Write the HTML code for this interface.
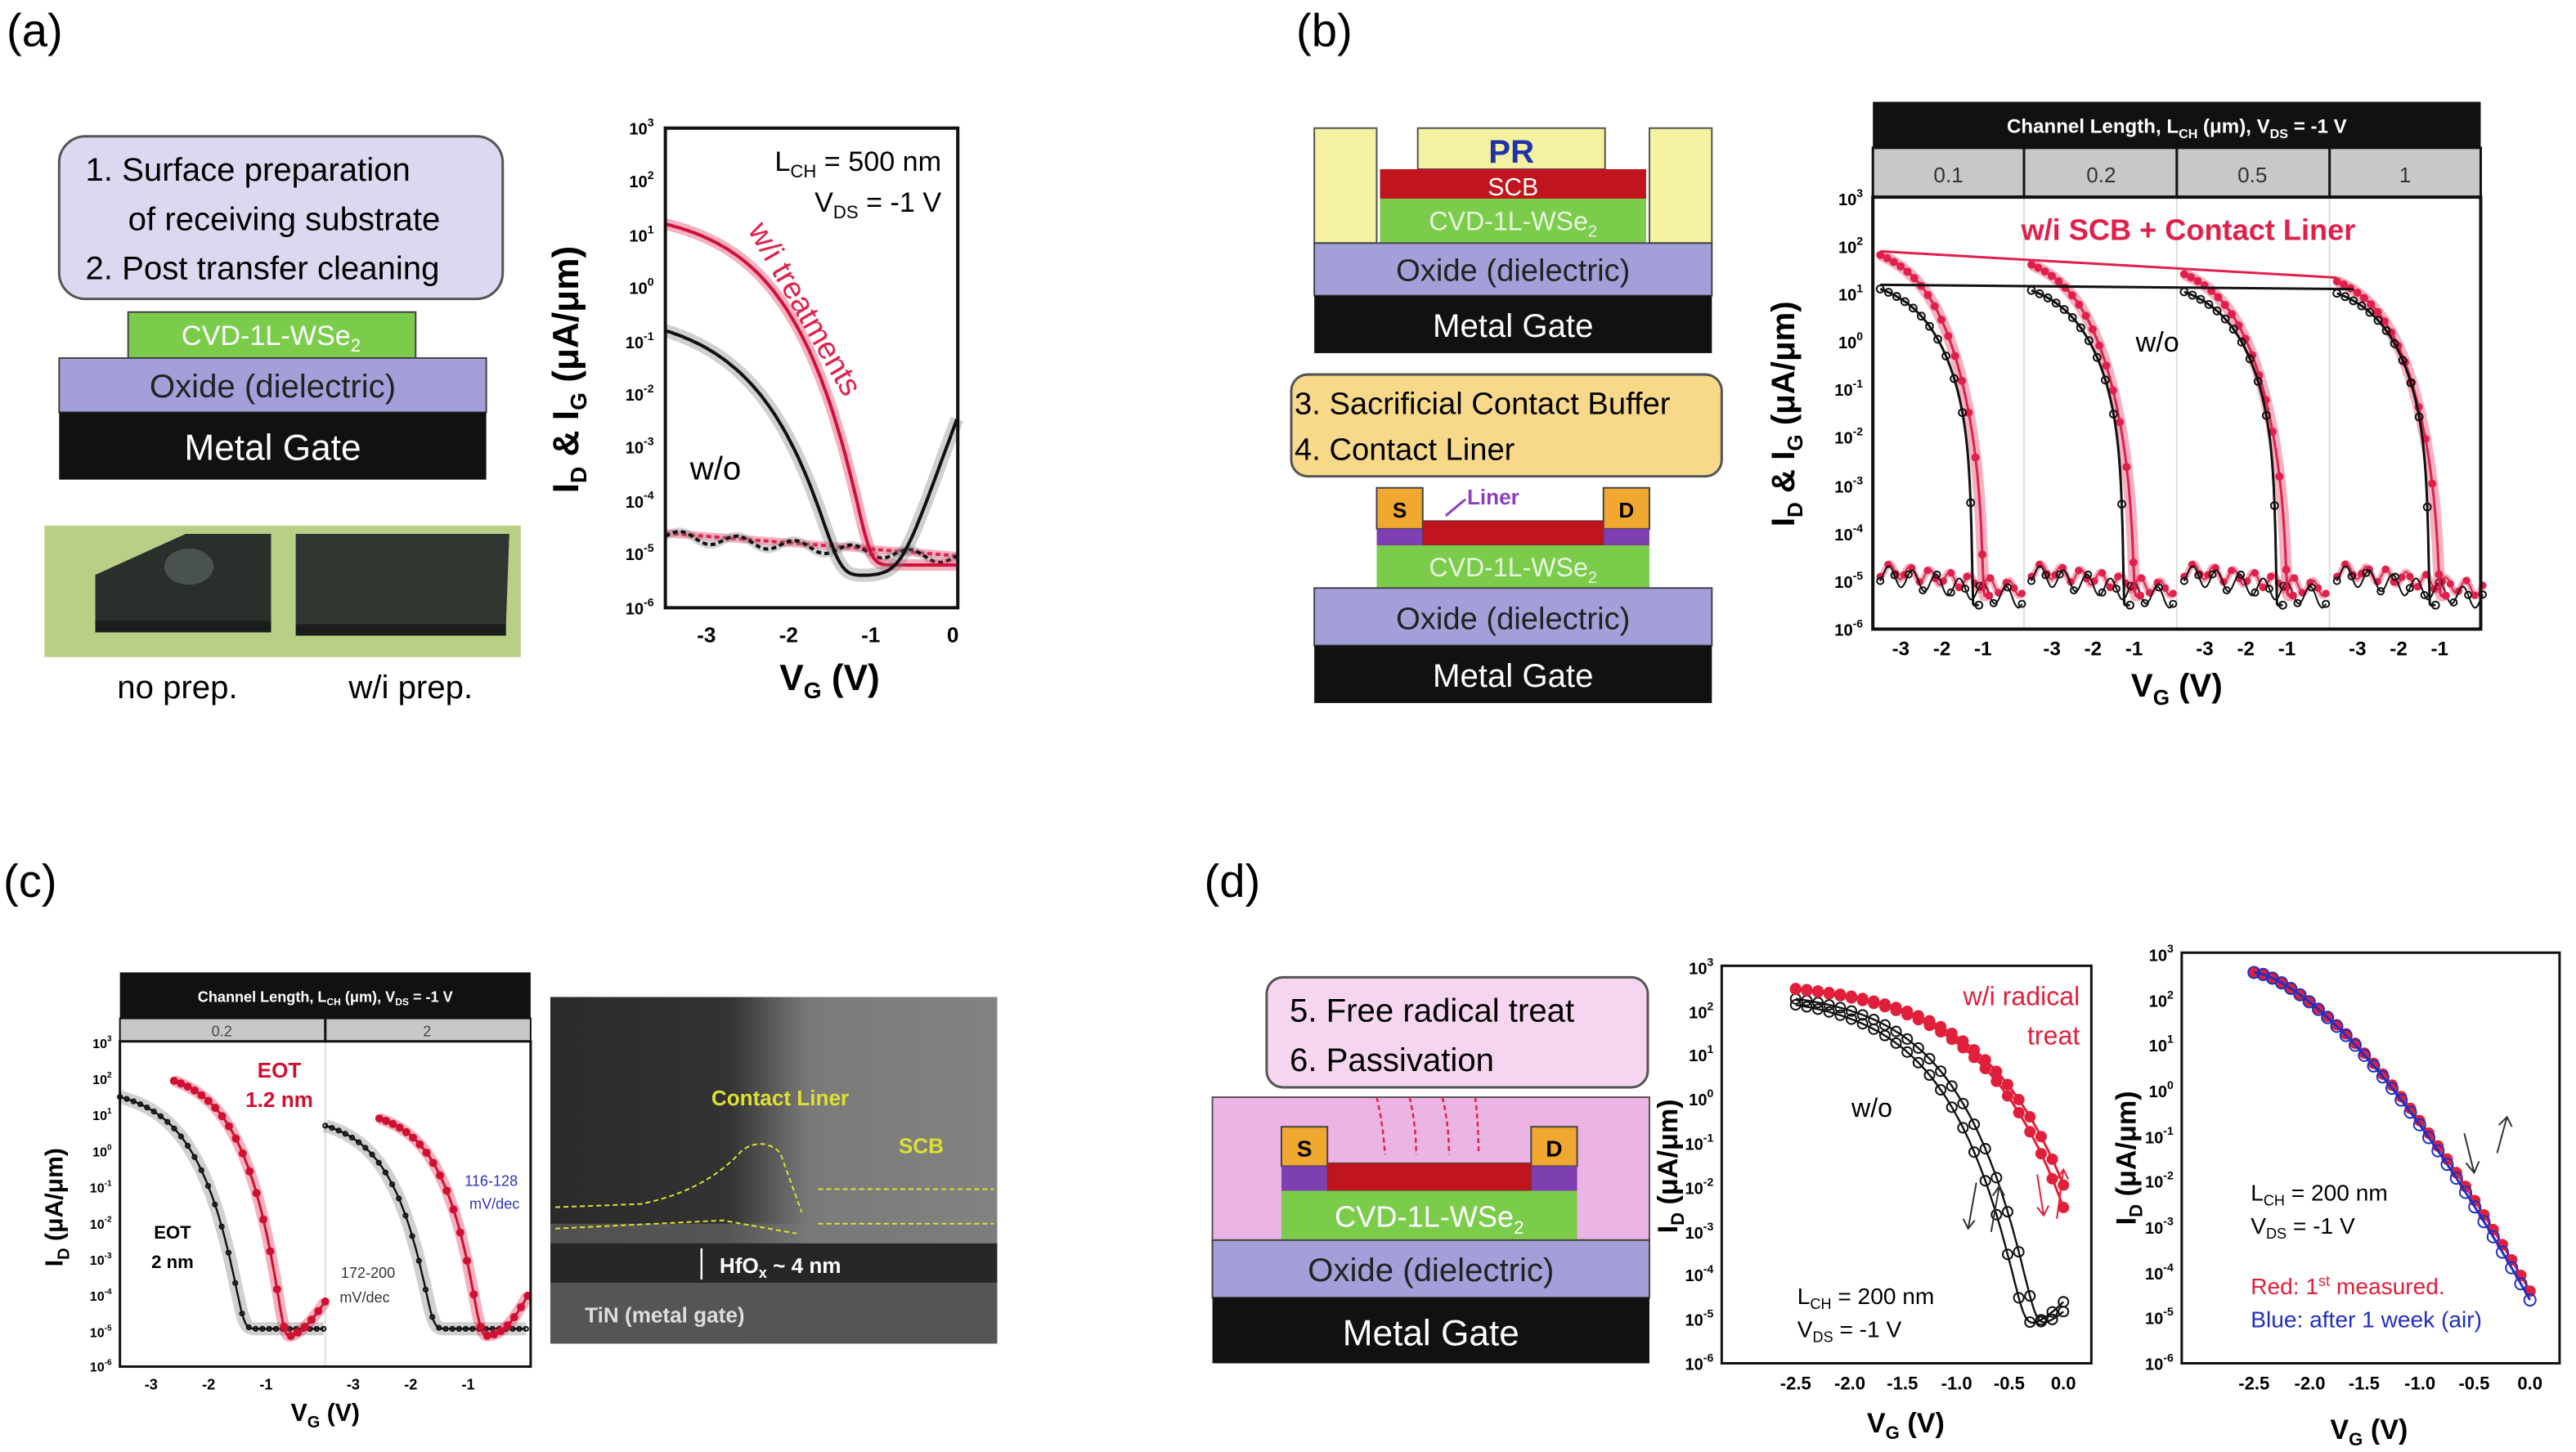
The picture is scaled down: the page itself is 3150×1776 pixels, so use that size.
<!DOCTYPE html>
<html><head><meta charset="utf-8"><style>
html,body{margin:0;padding:0;background:#fff;}
svg{display:block;}
text{font-family:"Liberation Sans",sans-serif;}
.t{font-size:10px;font-weight:bold;}
.s{font-size:7px;}
</style></head><body>
<svg id="sv" width="3150" height="1776" viewBox="0 0 1568 884" preserveAspectRatio="none" xmlns="http://www.w3.org/2000/svg">
<rect width="1568" height="884" fill="#fff"/>
<!-- labels -->
<text x="4" y="28" font-size="28">(a)</text>
<text x="789" y="28" font-size="28">(b)</text>
<text x="2" y="546" font-size="28">(c)</text>
<text x="733" y="546" font-size="28">(d)</text>

<!-- (a) schematic -->
<rect x="36" y="83" width="270" height="99" rx="16" fill="#dcd8f0" stroke="#555" stroke-width="1.5"/>
<text x="52" y="110" font-size="20">1.  Surface preparation</text>
<text x="78" y="140" font-size="20">of receiving substrate</text>
<text x="52" y="170" font-size="20">2. Post transfer cleaning</text>
<rect x="78" y="190" width="175" height="28" fill="#7ccc4c" stroke="#444"/>
<text x="165" y="210" font-size="17" fill="#fff" text-anchor="middle">CVD-1L-WSe<tspan font-size="11" dy="4">2</tspan></text>
<rect x="36" y="218" width="260" height="33" fill="#a39fd8" stroke="#444"/>
<text x="166" y="242" font-size="20" text-anchor="middle" fill="#222">Oxide (dielectric)</text>
<rect x="36" y="251" width="260" height="41" fill="#111"/>
<text x="166" y="280" font-size="22" text-anchor="middle" fill="#fff">Metal Gate</text>
<rect x="27" y="320" width="290" height="80" fill="#b9cf86"/>
<polygon points="58,350 113,325 165,325 165,378 58,385" fill="#2a2f2c"/>
<rect x="58" y="378" width="107" height="7" fill="#1a1d1b"/>
<ellipse cx="115" cy="345" rx="15" ry="11" fill="#4a524e"/>
<polygon points="180,325 310,325 308,380 180,380" fill="#30362f"/>
<rect x="180" y="380" width="128" height="7" fill="#1a1d1b"/>
<text x="108" y="425" font-size="20" text-anchor="middle">no prep.</text>
<text x="250" y="425" font-size="20" text-anchor="middle">w/i prep.</text>

<!-- (a) plot -->
<g id="pa"></g>
<rect x="405" y="78" width="178" height="292" fill="none" stroke="#111" stroke-width="2"/>
<g class="t" text-anchor="end">
<text x="398" y="82">10<tspan class="s" dy="-5">3</tspan></text>
<text x="398" y="114">10<tspan class="s" dy="-5">2</tspan></text>
<text x="398" y="147">10<tspan class="s" dy="-5">1</tspan></text>
<text x="398" y="179">10<tspan class="s" dy="-5">0</tspan></text>
<text x="398" y="212">10<tspan class="s" dy="-5">-1</tspan></text>
<text x="398" y="244">10<tspan class="s" dy="-5">-2</tspan></text>
<text x="398" y="276">10<tspan class="s" dy="-5">-3</tspan></text>
<text x="398" y="309">10<tspan class="s" dy="-5">-4</tspan></text>
<text x="398" y="341">10<tspan class="s" dy="-5">-5</tspan></text>
<text x="398" y="374">10<tspan class="s" dy="-5">-6</tspan></text>
</g>
<g font-size="13" font-weight="bold" text-anchor="middle">
<text x="430" y="391">-3</text><text x="480" y="391">-2</text><text x="530" y="391">-1</text><text x="580" y="391">0</text>
</g>
<text x="505" y="420" font-size="22" font-weight="bold" text-anchor="middle">V<tspan font-size="14" dy="5">G</tspan><tspan dy="-5"> (V)</tspan></text>
<text transform="translate(352,225) rotate(-90)" font-size="22" font-weight="bold" text-anchor="middle">I<tspan font-size="14" dy="5">D</tspan><tspan dy="-5"> &amp; I</tspan><tspan font-size="14" dy="5">G</tspan><tspan dy="-5"> (μA/μm)</tspan></text>
<text x="573" y="104" font-size="17" text-anchor="end">L<tspan font-size="11" dy="4">CH</tspan><tspan dy="-4"> = 500 nm</tspan></text>
<text x="573" y="129" font-size="17" text-anchor="end">V<tspan font-size="11" dy="4">DS</tspan><tspan dy="-4"> = -1 V</tspan></text>
<text transform="translate(455,140) rotate(60)" font-size="19" fill="#e0204a">w/i treatments</text>
<text x="420" y="292" font-size="20">w/o</text>

<!-- (b) schematic -->
<rect x="800" y="78" width="38" height="70" fill="#f4f2a0" stroke="#555"/>
<rect x="1004" y="78" width="38" height="70" fill="#f4f2a0" stroke="#555"/>
<rect x="863" y="78" width="114" height="25" fill="#f4f2a0" stroke="#555"/>
<text x="920" y="99" font-size="20" font-weight="bold" fill="#2233aa" text-anchor="middle">PR</text>
<rect x="840" y="103" width="162" height="18" fill="#c0141e"/>
<text x="921" y="119" font-size="15" fill="#fff" text-anchor="middle">SCB</text>
<rect x="840" y="121" width="162" height="27" fill="#7ccc4c"/>
<text x="921" y="140" font-size="16" fill="#e8f5e0" text-anchor="middle">CVD-1L-WSe<tspan font-size="10" dy="4">2</tspan></text>
<rect x="800" y="148" width="242" height="32" fill="#a39fd8" stroke="#444"/>
<text x="921" y="171" font-size="19" text-anchor="middle" fill="#222">Oxide (dielectric)</text>
<rect x="800" y="180" width="242" height="35" fill="#111"/>
<text x="921" y="205" font-size="20" text-anchor="middle" fill="#fff">Metal Gate</text>
<rect x="786" y="228" width="262" height="62" rx="10" fill="#f8d98a" stroke="#555" stroke-width="1.5"/>
<text x="788" y="252" font-size="19">3. Sacrificial Contact Buffer</text>
<text x="788" y="280" font-size="19">4. Contact Liner</text>
<rect x="838" y="297" width="28" height="25" fill="#f0a830" stroke="#444"/>
<text x="852" y="315" font-size="13" font-weight="bold" text-anchor="middle">S</text>
<rect x="976" y="297" width="28" height="25" fill="#f0a830" stroke="#444"/>
<text x="990" y="315" font-size="13" font-weight="bold" text-anchor="middle">D</text>
<rect x="838" y="322" width="28" height="10" fill="#7e3fb0"/>
<rect x="976" y="322" width="28" height="10" fill="#7e3fb0"/>
<rect x="866" y="317" width="110" height="15" fill="#c0141e" stroke="#444" stroke-width="0.5"/>
<text x="893" y="307" font-size="13" font-weight="bold" fill="#8b3fc0">Liner</text>
<line x1="880" y1="314" x2="892" y2="304" stroke="#8b3fc0" stroke-width="1.5"/>
<rect x="838" y="332" width="166" height="26" fill="#7ccc4c"/>
<text x="921" y="351" font-size="16" fill="#e8f5e0" text-anchor="middle">CVD-1L-WSe<tspan font-size="10" dy="4">2</tspan></text>
<rect x="800" y="358" width="242" height="35" fill="#a39fd8" stroke="#444"/>
<text x="921" y="383" font-size="19" text-anchor="middle" fill="#222">Oxide (dielectric)</text>
<rect x="800" y="393" width="242" height="35" fill="#111"/>
<text x="921" y="418" font-size="20" text-anchor="middle" fill="#fff">Metal Gate</text>

<!-- (b) plot -->
<rect x="1140" y="62" width="370" height="28" fill="#111"/>
<text x="1325" y="81" font-size="12" font-weight="bold" fill="#fff" text-anchor="middle">Channel Length, L<tspan font-size="8" dy="3">CH</tspan><tspan dy="-3"> (μm), V</tspan><tspan font-size="8" dy="3">DS</tspan><tspan dy="-3"> = -1 V</tspan></text>
<rect x="1140" y="90" width="370" height="30" fill="#c8c8c8" stroke="#111" stroke-width="1.5"/>
<g stroke="#111" stroke-width="1.5"><line x1="1232" y1="90" x2="1232" y2="120"/><line x1="1325" y1="90" x2="1325" y2="120"/><line x1="1418" y1="90" x2="1418" y2="120"/></g>
<g font-size="13" text-anchor="middle" fill="#333"><text x="1186" y="111">0.1</text><text x="1279" y="111">0.2</text><text x="1371" y="111">0.5</text><text x="1464" y="111">1</text></g>
<g stroke="#ddd" stroke-width="1"><line x1="1232" y1="120" x2="1232" y2="383"/><line x1="1325" y1="120" x2="1325" y2="383"/><line x1="1418" y1="120" x2="1418" y2="383"/></g>
<g id="pb"></g>
<rect x="1140" y="120" width="370" height="263" fill="none" stroke="#111" stroke-width="2"/>
<g class="t" text-anchor="end">
<text x="1134" y="125">10<tspan class="s" dy="-5">3</tspan></text>
<text x="1134" y="154">10<tspan class="s" dy="-5">2</tspan></text>
<text x="1134" y="183">10<tspan class="s" dy="-5">1</tspan></text>
<text x="1134" y="212">10<tspan class="s" dy="-5">0</tspan></text>
<text x="1134" y="241">10<tspan class="s" dy="-5">-1</tspan></text>
<text x="1134" y="270">10<tspan class="s" dy="-5">-2</tspan></text>
<text x="1134" y="300">10<tspan class="s" dy="-5">-3</tspan></text>
<text x="1134" y="329">10<tspan class="s" dy="-5">-4</tspan></text>
<text x="1134" y="358">10<tspan class="s" dy="-5">-5</tspan></text>
<text x="1134" y="387">10<tspan class="s" dy="-5">-6</tspan></text>
</g>
<g font-size="12" font-weight="bold" text-anchor="middle">
<text x="1157" y="399">-3</text><text x="1182" y="399">-2</text><text x="1207" y="399">-1</text>
<text x="1249" y="399">-3</text><text x="1274" y="399">-2</text><text x="1299" y="399">-1</text>
<text x="1342" y="399">-3</text><text x="1367" y="399">-2</text><text x="1392" y="399">-1</text>
<text x="1435" y="399">-3</text><text x="1460" y="399">-2</text><text x="1485" y="399">-1</text>
</g>
<text x="1325" y="424" font-size="20" font-weight="bold" text-anchor="middle">V<tspan font-size="13" dy="5">G</tspan><tspan dy="-5"> (V)</tspan></text>
<text transform="translate(1092,252) rotate(-90)" font-size="20" font-weight="bold" text-anchor="middle">I<tspan font-size="13" dy="5">D</tspan><tspan dy="-5"> &amp; I</tspan><tspan font-size="13" dy="5">G</tspan><tspan dy="-5"> (μA/μm)</tspan></text>
<text x="1332" y="146" font-size="18" font-weight="bold" fill="#e0204a" text-anchor="middle">w/i SCB + Contact Liner</text>
<text x="1300" y="214" font-size="17">w/o</text>

<!-- (c) plot -->
<rect x="73" y="592" width="250" height="28" fill="#111"/>
<text x="198" y="610" font-size="9" font-weight="bold" fill="#fff" text-anchor="middle">Channel Length, L<tspan font-size="6" dy="2">CH</tspan><tspan dy="-2"> (μm), V</tspan><tspan font-size="6" dy="2">DS</tspan><tspan dy="-2"> = -1 V</tspan></text>
<rect x="73" y="620" width="250" height="14" fill="#c8c8c8" stroke="#111"/>
<line x1="198" y1="620" x2="198" y2="634" stroke="#111" stroke-width="1.5"/>
<g font-size="9" text-anchor="middle" fill="#444"><text x="135" y="631">0.2</text><text x="260" y="631">2</text></g>
<line x1="198" y1="634" x2="198" y2="832" stroke="#ddd"/>
<g id="pc"></g>
<rect x="73" y="634" width="250" height="198" fill="none" stroke="#111" stroke-width="1.5"/>
<g font-size="8" font-weight="bold" text-anchor="end">
<text x="68" y="638">10<tspan font-size="5" dy="-4">3</tspan></text>
<text x="68" y="660">10<tspan font-size="5" dy="-4">2</tspan></text>
<text x="68" y="682">10<tspan font-size="5" dy="-4">1</tspan></text>
<text x="68" y="704">10<tspan font-size="5" dy="-4">0</tspan></text>
<text x="68" y="726">10<tspan font-size="5" dy="-4">-1</tspan></text>
<text x="68" y="748">10<tspan font-size="5" dy="-4">-2</tspan></text>
<text x="68" y="770">10<tspan font-size="5" dy="-4">-3</tspan></text>
<text x="68" y="792">10<tspan font-size="5" dy="-4">-4</tspan></text>
<text x="68" y="814">10<tspan font-size="5" dy="-4">-5</tspan></text>
<text x="68" y="835">10<tspan font-size="5" dy="-4">-6</tspan></text>
</g>
<g font-size="9" font-weight="bold" text-anchor="middle">
<text x="92" y="846">-3</text><text x="127" y="846">-2</text><text x="162" y="846">-1</text>
<text x="215" y="846">-3</text><text x="250" y="846">-2</text><text x="285" y="846">-1</text>
</g>
<text x="198" y="865" font-size="15" font-weight="bold" text-anchor="middle">V<tspan font-size="10" dy="4">G</tspan><tspan dy="-4"> (V)</tspan></text>
<text transform="translate(38,735) rotate(-90)" font-size="15" font-weight="bold" text-anchor="middle">I<tspan font-size="10" dy="4">D</tspan><tspan dy="-4"> (μA/μm)</tspan></text>
<text x="170" y="656" font-size="13" font-weight="bold" fill="#d01030" text-anchor="middle">EOT</text>
<text x="170" y="674" font-size="13" font-weight="bold" fill="#d01030" text-anchor="middle">1.2 nm</text>
<text x="105" y="754" font-size="11" font-weight="bold" text-anchor="middle">EOT</text>
<text x="105" y="772" font-size="11" font-weight="bold" text-anchor="middle">2 nm</text>
<text x="224" y="778" font-size="9" fill="#333" text-anchor="middle">172-200</text>
<text x="222" y="793" font-size="9" fill="#333" text-anchor="middle">mV/dec</text>
<text x="299" y="722" font-size="9" fill="#3030c0" text-anchor="middle">116-128</text>
<text x="301" y="736" font-size="9" fill="#3030c0" text-anchor="middle">mV/dec</text>
<!-- TEM -->
<defs>
<linearGradient id="tg" x1="0" x2="1" y1="0" y2="0"><stop offset="0" stop-color="#2a2a2a"/><stop offset="0.4" stop-color="#333"/><stop offset="0.58" stop-color="#7a7a7a"/><stop offset="1" stop-color="#828282"/></linearGradient>
</defs>
<rect x="335" y="607" width="272" height="211" fill="url(#tg)"/>
<rect x="335" y="745" width="272" height="12" fill="#777" opacity="0.5"/>
<rect x="335" y="757" width="272" height="24" fill="#262626"/>
<rect x="335" y="781" width="272" height="37" fill="#555"/>
<g fill="none" stroke="#dde030" stroke-width="1" stroke-dasharray="3,2">
<path d="M338,735 L390,733 Q430,725 452,700 Q465,692 475,702 L488,738"/>
<path d="M338,748 L440,743 L485,751"/>
<path d="M498,724 L605,724"/><path d="M498,745 L605,745"/>
</g>
<text x="433" y="673" font-size="13" font-weight="bold" fill="#dde030">Contact Liner</text>
<text x="547" y="702" font-size="13" font-weight="bold" fill="#dde030">SCB</text>
<line x1="427" y1="760" x2="427" y2="779" stroke="#fff" stroke-width="1.2"/>
<text x="438" y="775" font-size="13" font-weight="bold" fill="#fff">HfO<tspan font-size="9" dy="3">x</tspan><tspan dy="-3"> ~ 4 nm</tspan></text>
<text x="356" y="805" font-size="13" font-weight="bold" fill="#ddd">TiN (metal gate)</text>

<!-- (d) schematic -->
<rect x="771" y="595" width="232" height="67" rx="10" fill="#f5d5ef" stroke="#555" stroke-width="1.5"/>
<text x="785" y="622" font-size="20">5. Free radical treat</text>
<text x="785" y="652" font-size="20">6. Passivation</text>
<rect x="738" y="668" width="266" height="87" fill="#ecb4e4" stroke="#555"/>
<rect x="780" y="686" width="28" height="24" fill="#f0a830" stroke="#444"/>
<text x="794" y="704" font-size="14" font-weight="bold" text-anchor="middle">S</text>
<rect x="932" y="686" width="28" height="24" fill="#f0a830" stroke="#444"/>
<text x="946" y="704" font-size="14" font-weight="bold" text-anchor="middle">D</text>
<rect x="780" y="710" width="28" height="15" fill="#7e3fb0"/>
<rect x="932" y="710" width="28" height="15" fill="#7e3fb0"/>
<rect x="808" y="708" width="124" height="17" fill="#c0141e" stroke="#444" stroke-width="0.5"/>
<g stroke="#e02040" stroke-width="1.2" stroke-dasharray="3,2" fill="none">
<path d="M838,668 Q842,685 843,703"/><path d="M858,668 Q862,685 862,703"/><path d="M878,668 Q882,685 882,703"/><path d="M898,668 Q900,685 900,703"/>
</g>
<rect x="780" y="725" width="180" height="30" fill="#7ccc4c"/>
<text x="870" y="747" font-size="18" fill="#fff" text-anchor="middle">CVD-1L-WSe<tspan font-size="11" dy="4">2</tspan></text>
<rect x="738" y="755" width="266" height="35" fill="#a39fd8" stroke="#444"/>
<text x="871" y="780" font-size="20" text-anchor="middle" fill="#222">Oxide (dielectric)</text>
<rect x="738" y="790" width="266" height="40" fill="#111"/>
<text x="871" y="819" font-size="22" text-anchor="middle" fill="#fff">Metal Gate</text>

<!-- (d1) plot -->
<g id="pd1"></g>
<rect x="1048" y="588" width="225" height="242" fill="none" stroke="#111" stroke-width="1.5"/>
<g class="t" text-anchor="end" font-size="9">
<text x="1043" y="593">10<tspan class="s" dy="-5">3</tspan></text>
<text x="1043" y="620">10<tspan class="s" dy="-5">2</tspan></text>
<text x="1043" y="646">10<tspan class="s" dy="-5">1</tspan></text>
<text x="1043" y="673">10<tspan class="s" dy="-5">0</tspan></text>
<text x="1043" y="700">10<tspan class="s" dy="-5">-1</tspan></text>
<text x="1043" y="727">10<tspan class="s" dy="-5">-2</tspan></text>
<text x="1043" y="754">10<tspan class="s" dy="-5">-3</tspan></text>
<text x="1043" y="780">10<tspan class="s" dy="-5">-4</tspan></text>
<text x="1043" y="807">10<tspan class="s" dy="-5">-5</tspan></text>
<text x="1043" y="834">10<tspan class="s" dy="-5">-6</tspan></text>
</g>
<g font-size="11" font-weight="bold" text-anchor="middle">
<text x="1093" y="846">-2.5</text><text x="1126" y="846">-2.0</text><text x="1158" y="846">-1.5</text><text x="1191" y="846">-1.0</text><text x="1223" y="846">-0.5</text><text x="1256" y="846">0.0</text>
</g>
<text x="1160" y="872" font-size="17" font-weight="bold" text-anchor="middle">V<tspan font-size="11" dy="4">G</tspan><tspan dy="-4"> (V)</tspan></text>
<text transform="translate(1021,710) rotate(-90)" font-size="17" font-weight="bold" text-anchor="middle">I<tspan font-size="11" dy="4">D</tspan><tspan dy="-4"> (μA/μm)</tspan></text>
<text x="1266" y="612" font-size="16" fill="#e0203a" text-anchor="end">w/i radical</text>
<text x="1266" y="636" font-size="16" fill="#e0203a" text-anchor="end">treat</text>
<text x="1127" y="680" font-size="16">w/o</text>
<text x="1094" y="794" font-size="14">L<tspan font-size="9" dy="3">CH</tspan><tspan dy="-3"> = 200 nm</tspan></text>
<text x="1094" y="814" font-size="14">V<tspan font-size="9" dy="3">DS</tspan><tspan dy="-3"> = -1 V</tspan></text>
<g stroke="#333" stroke-width="1" fill="none">
<path d="M1203,720 L1198,748 M1195,742 L1198,748 L1202,743"/><path d="M1212,750 L1217,722 M1213,728 L1217,722 L1220,728"/>
</g>
<g stroke="#e0203a" stroke-width="1" fill="none">
<path d="M1240,715 L1244,740 M1240,735 L1244,740 L1247,734"/><path d="M1252,742 L1256,712 M1252,718 L1256,712 L1259,718"/>
</g>

<!-- (d2) plot -->
<g id="pd2"></g>
<rect x="1328" y="580" width="230" height="250" fill="none" stroke="#111" stroke-width="1.5"/>
<g class="t" text-anchor="end" font-size="9">
<text x="1323" y="585">10<tspan class="s" dy="-5">3</tspan></text>
<text x="1323" y="613">10<tspan class="s" dy="-5">2</tspan></text>
<text x="1323" y="640">10<tspan class="s" dy="-5">1</tspan></text>
<text x="1323" y="668">10<tspan class="s" dy="-5">0</tspan></text>
<text x="1323" y="696">10<tspan class="s" dy="-5">-1</tspan></text>
<text x="1323" y="723">10<tspan class="s" dy="-5">-2</tspan></text>
<text x="1323" y="751">10<tspan class="s" dy="-5">-3</tspan></text>
<text x="1323" y="779">10<tspan class="s" dy="-5">-4</tspan></text>
<text x="1323" y="806">10<tspan class="s" dy="-5">-5</tspan></text>
<text x="1323" y="834">10<tspan class="s" dy="-5">-6</tspan></text>
</g>
<g font-size="11" font-weight="bold" text-anchor="middle">
<text x="1372" y="846">-2.5</text><text x="1406" y="846">-2.0</text><text x="1439" y="846">-1.5</text><text x="1473" y="846">-1.0</text><text x="1506" y="846">-0.5</text><text x="1540" y="846">0.0</text>
</g>
<text x="1442" y="876" font-size="17" font-weight="bold" text-anchor="middle">V<tspan font-size="11" dy="4">G</tspan><tspan dy="-4"> (V)</tspan></text>
<text transform="translate(1300,705) rotate(-90)" font-size="17" font-weight="bold" text-anchor="middle">I<tspan font-size="11" dy="4">D</tspan><tspan dy="-4"> (μA/μm)</tspan></text>
<text x="1370" y="731" font-size="14">L<tspan font-size="9" dy="3">CH</tspan><tspan dy="-3"> = 200 nm</tspan></text>
<text x="1370" y="751" font-size="14">V<tspan font-size="9" dy="3">DS</tspan><tspan dy="-3"> = -1 V</tspan></text>
<text x="1370" y="788" font-size="14" fill="#e0203a">Red: 1<tspan font-size="9" dy="-5">st</tspan><tspan dy="5"> measured.</tspan></text>
<text x="1370" y="808" font-size="14" fill="#2030c0">Blue: after 1 week (air)</text>
<g stroke="#333" stroke-width="1" fill="none">
<path d="M1500,690 L1506,714 M1501,708 L1506,714 L1509,707"/><path d="M1520,702 L1526,680 M1521,685 L1526,680 L1529,686"/>
</g>
</svg>
<script>
(function(){
var NS='http://www.w3.org/2000/svg';
function el(g,tag,a){var e=document.createElementNS(NS,tag);for(var k in a)e.setAttribute(k,a[k]);g.appendChild(e);return e;}
function F(p){return function(v){var w=v-p.v0;
 var g=(p.a0||0)+(p.pw?p.a*Math.pow(Math.max(w,0)/p.s,p.pw):p.a*Math.exp(p.b*w));
 if(p.c){g+=(v<p.vt)?p.c/(p.vt-v):100;}
 var f=p.top-g;if(f<-20)f=-20;
 var t=Math.pow(10,f)+Math.pow(10,p.off)+(p.amb?Math.pow(10,p.off+p.amb*(v-p.va)):0);return Math.log10(t);};}
function M(x0,v0,kx,y3,y6){return {X:function(v){return x0+(v-v0)*kx;},Y:function(l){var y=y3+(3-l)*(y6-y3)/9;return Math.min(Math.max(y,y3),y6);}};}
function curve(g,m,f,a,b,o){var n=120,pts=[];for(var i=0;i<=n;i++){var v=a+(b-a)*i/n;pts.push([m.X(v),m.Y(f(v))]);}
 var d='M'+pts.map(function(p){return p[0].toFixed(1)+','+p[1].toFixed(1);}).join(' L');
 if(o.band)el(g,'path',{d:d,fill:'none',stroke:o.band,'stroke-width':o.bw||6,opacity:0.35,'stroke-linejoin':'round'});
 el(g,'path',{d:d,fill:'none',stroke:o.c,'stroke-width':o.w||1.5,'stroke-dasharray':o.dash||'none'});
 if(o.mk){var nm=o.mk;for(var j=0;j<=nm;j++){var v=a+(b-a)*j/nm;el(g,'circle',{cx:m.X(v),cy:m.Y(f(v)),r:o.r||2.2,fill:o.fill?o.c:'none',stroke:o.c,'stroke-width':1});}}}
// (a)
var g=document.getElementById('pa'),m=M(580,0,50,78,370);
curve(g,m,function(v){return -4.6-0.12*(v+3.5);},-3.5,0.05,{c:'#e0204a',w:2,dash:'3,2',band:'#e0204a',bw:5});
curve(g,m,function(v){return -4.65-0.12*(v+3.5)+0.1*Math.sin(v*9);},-3.5,0.05,{c:'#111',w:2,dash:'3,2',band:'#888',bw:5});
curve(g,m,F({top:1.5,a:0.3,b:1.25,v0:-3.5,off:-5.2}),-3.5,0.05,{c:'#d0103a',w:2,band:'#e0204a',bw:7});
curve(g,m,F({top:-0.4,a:0.4,b:1.2,v0:-3.5,off:-5.4,amb:4.2,va:-0.65}),-3.5,0.05,{c:'#111',w:2,band:'#777',bw:8});
// (b)
g=document.getElementById('pb');
var starts=[1140,1232,1325,1418],rs=[1.9,1.7,1.5,1.35];
var lr=[],lb=[];
for(var i=0;i<4;i++){m=M(starts[i],-3.68,25,121,383);
 var last=(i==3)?0.05:-0.05;
 curve(g,m,function(v){return -4.75-0.12*(v+3.5)+0.15*Math.sin(v*13);},-3.5,last,{c:'#e0204a',w:1,band:'#e0204a',bw:4,mk:18,r:1.8,fill:true});
 curve(g,m,function(v){return -4.85-0.15*(v+3.5)+0.2*Math.sin(v*11);},-3.5,last,{c:'#111',w:1,mk:10,r:2});
 var fr=F({top:rs[i]+0.3,a:0.3,b:1.1,v0:-3.5,c:0.2,vt:-0.92,off:-5.3});
 var fb=F({top:1.45-i*0.03,a:0.25,b:1.1,v0:-3.5,c:0.2,vt:-1.2,off:-5.5});
 curve(g,m,fr,-3.5,-0.85,{c:'#e0204a',w:1.5,band:'#e0204a',bw:7,mk:16,r:2,fill:true});
 curve(g,m,fb,-3.5,-1.1,{c:'#111',w:1.5,mk:12,r:2.2});
 lr.push([m.X(-3.5),m.Y(rs[i])]);lb.push([m.X(-3.5),m.Y(1.2-i*0.03)]);}
el(g,'line',{x1:lr[0][0],y1:lr[0][1],x2:lr[3][0],y2:lr[3][1],stroke:'#e0204a','stroke-width':1.5});
el(g,'line',{x1:lb[0][0],y1:lb[0][1],x2:lb[3][0]+10,y2:lb[3][1],stroke:'#111','stroke-width':1.5});
// (c)
g=document.getElementById('pc');
m=M(73,-3.54,35,635,832);
curve(g,m,F({top:1.8,a:0.3,b:1.45,v0:-3.54,off:-4.95}),-3.54,0,{c:'#111',w:1.2,band:'#777',bw:8,mk:30,r:1.3});
curve(g,m,F({top:2.3,a:0.35,b:1.6,v0:-2.6,off:-5.3,amb:2.5,va:-0.4}),-2.6,0.03,{c:'#d01030',w:1.5,band:'#e0204a',bw:7,mk:22,r:2,fill:true});
m=M(198,-3.49,35,635,832);
curve(g,m,F({top:1.0,a:0.3,b:1.6,v0:-3.49,off:-4.95}),-3.49,0,{c:'#111',w:1.2,band:'#777',bw:8,mk:30,r:1.3});
curve(g,m,F({top:1.2,a:0.3,b:1.74,v0:-2.55,off:-5.2,amb:3,va:-0.35}),-2.55,0.03,{c:'#d01030',w:1.5,band:'#e0204a',bw:7,mk:22,r:2,fill:true});
// (d1)
g=document.getElementById('pd1');m=M(1256,0,65.2,589,830);
curve(g,m,F({top:2.4,a:0.25,b:1.6,v0:-2.5,off:-5.3,amb:3,va:-0.2}),-2.5,0,{c:'#111',w:1.2,mk:24,r:3});
curve(g,m,F({top:2.5,a:0.25,b:1.6,v0:-2.4,off:-5.3,amb:3,va:-0.1}),-2.5,0,{c:'#111',w:1.2,mk:24,r:3});
curve(g,m,F({top:2.7,a:0.2,b:1.3,v0:-2.5,off:-6}),-2.5,0,{c:'#e0203a',w:1.5,mk:24,r:3,fill:true});
curve(g,m,F({top:2.7,a:0.2,b:1.3,v0:-2.42,off:-6}),-2.5,0,{c:'#e0203a',w:1.5,mk:24,r:3,fill:true});
// (d2)
g=document.getElementById('pd2');m=M(1540,0,67.2,581,830);
curve(g,m,F({top:2.9,a0:0.3,a:3.26,pw:1.5,s:1.5,v0:-2.5,off:-7}),-2.5,0,{c:'#e0203a',w:1.5,mk:30,r:3,fill:true});
curve(g,m,F({top:2.9,a0:0.3,a:3.35,pw:1.5,s:1.5,v0:-2.5,off:-7}),-2.5,0,{c:'#2030c0',w:1.5,mk:30,r:3.5});
})();
</script>
</body></html>
